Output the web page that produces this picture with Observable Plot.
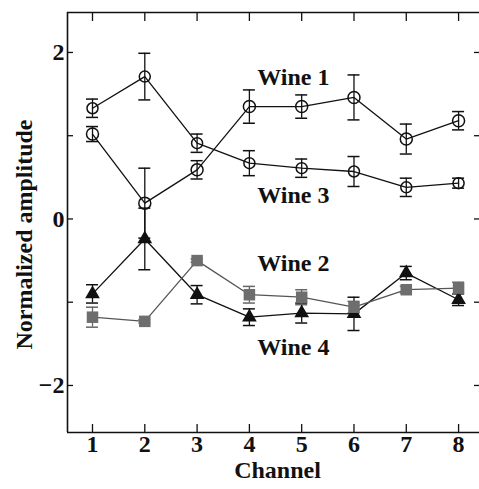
<!DOCTYPE html>
<html>
<head>
<meta charset="utf-8">
<script src="https://cdn.jsdelivr.net/npm/d3@7"></script>
<script src="https://cdn.jsdelivr.net/npm/@observablehq/plot@0.6"></script>
<style>
  html, body { margin: 0; padding: 0; background: #fff; }
</style>
</head>
<body>
<div id="chart"></div>
<script>
const channels = [1, 2, 3, 4, 5, 6, 7, 8];
const wine1 = [1.02, 0.19, 0.59, 1.35, 1.35, 1.46, 0.96, 1.18];
const wine1Err = [0.09, 0.42, 0.11, 0.20, 0.14, 0.27, 0.18, 0.11];
const wine3 = [1.33, 1.71, 0.91, 0.67, 0.61, 0.57, 0.38, 0.43];
const wine3Err = [0.11, 0.28, 0.11, 0.15, 0.11, 0.18, 0.11, 0.06];
const wine2 = [-1.18, -1.23, -0.50, -0.91, -0.94, -1.06, -0.85, -0.83];
const wine2Err = [0.12, 0.02, 0.02, 0.10, 0.09, 0.07, 0.04, 0.07];
const wine4 = [-0.90, -0.24, -0.91, -1.18, -1.13, -1.14, -0.65, -0.97];
const wine4Err = [0.11, 0.37, 0.11, 0.10, 0.12, 0.20, 0.08, 0.07];

const labelNames = ["Wine 1", "Wine 3", "Wine 2", "Wine 4"];
const labelX = [4.84, 4.84, 4.84, 4.84];
const labelY = [1.70, 0.29, -0.53, -1.54];

const yTicks = [-2, -1, 0, 1, 2];
const yLabelTicks = [-2, 0, 2];
const xDomain = [0.522, 8.40];
const yDomain = [-2.565, 2.48];

function rows(vals, errs) {
  return channels.map((c, i) => ({x: c, y: vals[i], lo: vals[i] - errs[i], hi: vals[i] + errs[i]}));
}
const s1 = rows(wine1, wine1Err);
const s3 = rows(wine3, wine3Err);
const s2 = rows(wine2, wine2Err);
const s4 = rows(wine4, wine4Err);
const labels = labelNames.map((t, i) => ({t, x: labelX[i], y: labelY[i]}));

const fmt = d => (d < 0 ? "\u2212" + Math.abs(d) : String(d));

function errMarks(data, stroke) {
  return [
    Plot.ruleX(data, {x: "x", y1: "lo", y2: "hi", stroke, strokeWidth: 1.3}),
    Plot.ruleY(data, {x1: "x", x2: "x", y: "hi", insetLeft: -6, insetRight: -6, stroke, strokeWidth: 1.5}),
    Plot.ruleY(data, {x1: "x", x2: "x", y: "lo", insetLeft: -6, insetRight: -6, stroke, strokeWidth: 1.5})
  ];
}

const FS = 24;

const chart = Plot.plot({
  width: 479,
  height: 489,
  marginLeft: 67,
  marginRight: 0,
  marginTop: 12,
  marginBottom: 57,
  style: {fontFamily: "'Liberation Serif', 'DejaVu Serif', serif", fontSize: FS + "px", fontWeight: "bold", color: "#111", background: "#fff"},
  x: {domain: xDomain},
  y: {domain: yDomain},
  marks: [
    // frame lines: left, top, bottom (the right side lies beyond the picture)
    Plot.ruleX([xDomain[0]], {stroke: "#111", strokeWidth: 1.6}),
    Plot.ruleY(yDomain, {stroke: "#111", strokeWidth: 1.6}),
    // axes: inward ticks
    Plot.axisY(yTicks, {anchor: "left", tickSize: -6, tickFormat: () => "", label: null, strokeWidth: 1.3}),
    Plot.axisY(yTicks, {anchor: "right", tickSize: -6, tickFormat: () => "", label: null, strokeWidth: 1.3}),
    Plot.axisY(yLabelTicks, {anchor: "left", tickSize: 0, tickPadding: 3, tickFormat: fmt, label: null, fontSize: FS}),
    Plot.axisX(channels, {anchor: "bottom", tickSize: -8, tickFormat: () => "", label: null, strokeWidth: 1.3}),
    Plot.axisX(channels, {anchor: "top", tickSize: -8, tickFormat: () => "", label: null, strokeWidth: 1.3}),
    Plot.axisX(channels, {anchor: "bottom", tickSize: 0, tickPadding: 2, label: null, fontSize: FS}),
    // series
    ...errMarks(s4, "#111"),
    ...errMarks(s2, "#666"),
    Plot.line(s4, {x: "x", y: "y", stroke: "#111", strokeWidth: 1.3}),
    Plot.line(s2, {x: "x", y: "y", stroke: "#555", strokeWidth: 1.3}),
    Plot.dot(s4, {x: "x", y: "y", symbol: "triangle", r: 4.5, fill: "#111", stroke: "#111"}),
    Plot.dot(s2, {x: "x", y: "y", symbol: "square", r: 6.5, fill: "#6e6e6e"}),
    ...errMarks(s1, "#111"),
    ...errMarks(s3, "#111"),
    Plot.line(s1, {x: "x", y: "y", stroke: "#111", strokeWidth: 1.3}),
    Plot.line(s3, {x: "x", y: "y", stroke: "#111", strokeWidth: 1.3}),
    Plot.dot(s1, {x: "x", y: "y", r: 6, stroke: "#111", strokeWidth: 1.5, fill: "none"}),
    Plot.dot(s3, {x: "x", y: "y", r: 5.5, stroke: "#111", strokeWidth: 1.5, fill: "none"}),
    // annotations
    Plot.text(labels, {x: "x", y: "y", text: "t", fontSize: FS, fontWeight: "bold", fill: "#111"}),
    Plot.text(["Channel"], {frameAnchor: "bottom", dx: 4, dy: 45, fontSize: FS, fontWeight: "bold", fill: "#111"}),
    Plot.text(["Normalized amplitude"], {frameAnchor: "left", textAnchor: "middle", dx: -43, dy: 12, rotate: -90, fontSize: FS, fontWeight: "bold", fill: "#111"})
  ]
});
document.getElementById("chart").appendChild(chart);
</script>
</body>
</html>
